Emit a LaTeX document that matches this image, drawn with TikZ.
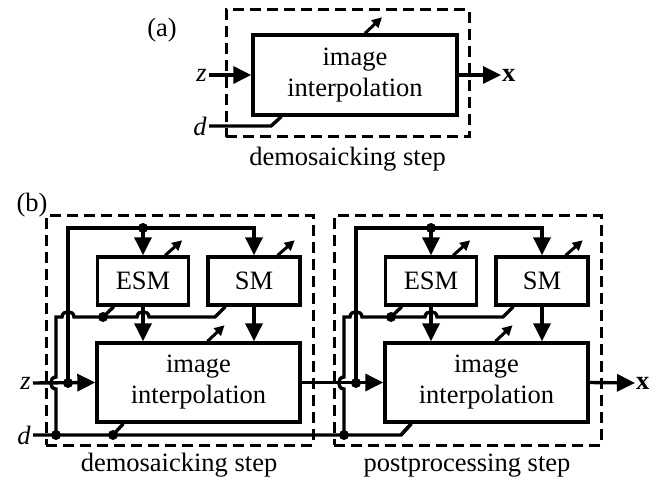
\documentclass[tikz,border=0pt]{standalone}
\usepackage{fontspec}
\setmainfont{Liberation Serif}
\usetikzlibrary{arrows.meta,calc}
\newcommand\drawstage[3]{%
\begin{scope}[xshift=#2pt]
  \node[stepframe, minimum width=267pt, minimum height=229pt] (fr#1) at (179.5,330.5) {};
  \node[blk, minimum width=91pt, minimum height=48pt] (esm#1) at (143,281) {ESM};
  \node[blk, minimum width=92pt, minimum height=48pt] (sm#1) at (254,281) {SM};
  \node[blk, minimum width=203pt, minimum height=79pt] (img#1) at (198.5,382.5) {image\\interpolation};
  \node[dot] (fz#1) at (68,383) {};
  \node[dot] (ft#1) at (143,228) {};
  \node[dot] (fb#1) at (103,317) {};
  \node[dot] (fd#1) at (56,435) {};
  \draw[sig] (fz#1.center) -- (68,228) -| (sm#1.north);
  \draw[sig] (ft#1.center) -- (esm#1.north);
  \draw[sig] (esm#1.south) -- (esm#1.south |- img#1.north);
  \draw[sig] (sm#1.south) -- (sm#1.south |- img#1.north);
  \draw[wire] (fd#1.center) -- (56,389) .. controls (49,389) and (49,377) .. (56,377)
     -- (56,317) -- (62,317) .. controls (62,310) and (74,310) .. (74,317)
     -- (137,317) .. controls (137,310) and (149,310) .. (149,317)
     -- (215,317) -- ($(sm#1.south west)+(19,0)$);
  \draw[wire] (fb#1.center) -- ($(esm#1.south west)+(18,0)$);
  \draw[wire] (113,435) -- ($(img#1.south west)+(28,0)$);
  \draw[par] ($(esm#1.north east)+(-25,0)$) -- ++(17,-15);
  \draw[par] ($(sm#1.north east)+(-24,0)$) -- ++(17,-15);
  \draw[par] ($(img#1.north)+(9,0)$) -- ++(17,-16);
  \node[anchor=base] (cap#1) at (179,471) {#3};
\end{scope}}
\begin{document}
\begin{tikzpicture}[x=1pt,y=-1pt,
  every node/.style={font=\fontsize{26.5}{31}\selectfont, inner sep=0pt},
  blk/.style={draw, line width=3.4pt, align=center},
  stepframe/.style={draw, line width=3pt, dash pattern=on 11pt off 6pt},
  wire/.style={line width=3.4pt},
  sig/.style={wire, -{Triangle[length=18pt,width=17pt]}},
  par/.style={line width=3pt, -{Triangle[length=10pt,width=10pt]}},
  dot/.style={circle, fill, minimum size=10pt, inner sep=0pt}]
\useasboundingbox (0,0) rectangle (667,481);

% ---------- (a) ----------
\node (labA) at (162,30) {(a)};
\node[stepframe, minimum width=243pt, minimum height=127pt] (frA) at (347.5,73.5) {};
\node[blk, minimum width=204pt, minimum height=80pt] (imgA) at (355,75) {image\\interpolation};
\node[anchor=east, inner sep=2pt] (zA) at (209,75) {\textit{z}};
\node[anchor=east, inner sep=2pt] (dA) at (209,126) {\textit{d}};
\node[anchor=west, inner sep=1pt] (xA) at (501,75) {\textbf{x}};
\node[anchor=base] (capA) at (347.5,166) {demosaicking step};
\draw[sig] (zA.east) -- (imgA.west);
\draw[sig] (imgA.east) -- (xA.west);
\draw[wire] (dA.east) -- (271,126) -- ($(imgA.south west)+(30,0)$);
\draw[par] ($(imgA.north)+(10,0)$) -- ++(17,-16);

% ---------- (b) ----------
\node (labB) at (32,205) {(b)};
\drawstage{1}{0}{demosaicking step}
\drawstage{2}{288}{postprocessing step}
\node[anchor=east, inner sep=2pt] (zB) at (33,383) {\textit{z}};
\node[anchor=east, inner sep=2pt] (dB) at (33,435) {\textit{d}};
\node[anchor=west, inner sep=1pt] (xB) at (635,383) {\textbf{x}};
\node[dot] (fi1) at (113,435) {};
\draw[sig] (zB.east) -- (img1.west);
\draw[sig] (img1.east) -- (img2.west);
\draw[wire] (dB.east) -- (401,435) -- ($(img2.south west)+(28,0)$);
\draw[sig] (img2.east) -- (xB.west);
\end{tikzpicture}
\end{document}
